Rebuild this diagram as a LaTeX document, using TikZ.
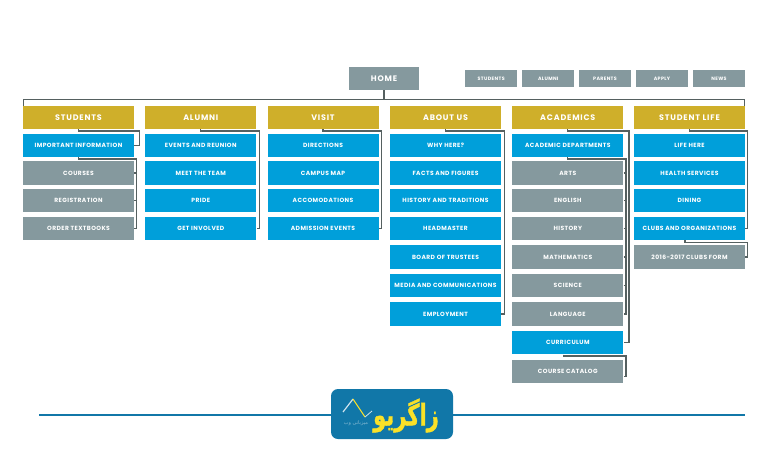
\documentclass[tikz,border=0pt]{standalone}
\usepackage{fontspec}
\usepackage{xcolor}
\usetikzlibrary{positioning}
\setmainfont{Poppins}
\newfontfamily\menufont[LetterSpace=7]{Poppins}
\newfontfamily\headfont[LetterSpace=10]{Poppins}
\newfontfamily\logofont[Script=Arabic,FakeBold=1.5]{DejaVu Sans}
\newfontfamily\logosmall[Script=Arabic]{DejaVu Sans}
\TeXXeTstate=1
\definecolor{mapgold}{RGB}{207,175,42}
\definecolor{mapblue}{RGB}{0,159,218}
\definecolor{mapgray}{RGB}{133,153,158}
\definecolor{mapwire}{RGB}{85,96,96}
\definecolor{logoblue}{RGB}{17,119,168}
\definecolor{logoyellow}{RGB}{250,225,40}

\begin{document}
\begin{tikzpicture}[
x=1pt, y=-1pt,
navbox/.style={text=white, font=\menufont\bfseries\fontsize{6}{7}\selectfont, minimum width=111pt, minimum height=23.3pt, inner sep=0pt, align=center},
headbox/.style={navbox, fill=mapgold, font=\headfont\bfseries\fontsize{8}{9}\selectfont},
bluebox/.style={navbox, fill=mapblue},
graybox/.style={navbox, fill=mapgray},
topbox/.style={navbox, fill=mapgray, minimum width=52.5pt, minimum height=17.5pt, font=\menufont\bfseries\fontsize{4.8}{5}\selectfont},
wire/.style={draw=mapwire, line width=1.3pt},
below gap/.style={below=4pt of #1},
below wide/.style={below=4.9pt of #1}
]
\useasboundingbox (0,0) rectangle (784,450);

% top row
\node[graybox, minimum width=70pt, font=\headfont\bfseries\fontsize{8}{9}\selectfont] (home) at (384,78.5) {HOME};
\node[topbox] (topstudents) at (491.2,78.7) {STUDENTS};
\node[topbox] (topalumni) at (548.2,78.7) {ALUMNI};
\node[topbox] (topparents) at (605,78.7) {PARENTS};
\node[topbox] (topapply) at (662,78.7) {APPLY};
\node[topbox] (topnews) at (719,78.7) {NEWS};

% column heads
\node[headbox] (students) at (78.5,117.5) {STUDENTS};
\node[headbox] (alumni) at (200.8,117.5) {ALUMNI};
\node[headbox] (visit) at (323,117.5) {VISIT};
\node[headbox] (about) at (445.5,117.5) {ABOUT US};
\node[headbox] (academics) at (567.8,117.5) {ACADEMICS};
\node[headbox] (life) at (689.5,117.5) {STUDENT LIFE};

% students
\node[bluebox, below gap=students] (s1) {IMPORTANT INFORMATION};
\node[graybox, below gap=s1] (s2) {COURSES};
\node[graybox, below gap=s2] (s3) {REGISTRATION};
\node[graybox, below gap=s3] (s4) {ORDER TEXTBOOKS};

% alumni
\node[bluebox, below gap=alumni] (a1) {EVENTS AND REUNION};
\node[bluebox, below gap=a1] (a2) {MEET THE TEAM};
\node[bluebox, below gap=a2] (a3) {PRIDE};
\node[bluebox, below gap=a3] (a4) {GET INVOLVED};

% visit
\node[bluebox, below gap=visit] (v1) {DIRECTIONS};
\node[bluebox, below gap=v1] (v2) {CAMPUS MAP};
\node[bluebox, below gap=v2] (v3) {ACCOMODATIONS};
\node[bluebox, below gap=v3] (v4) {ADMISSION EVENTS};

% about us
\node[bluebox, below gap=about] (b1) {WHY HERE?};
\node[bluebox, below gap=b1] (b2) {FACTS AND FIGURES};
\node[bluebox, below gap=b2] (b3) {HISTORY AND TRADITIONS};
\node[bluebox, below gap=b3] (b4) {HEADMASTER};
\node[bluebox, below wide=b4] (b5) {BOARD OF TRUSTEES};
\node[bluebox, below wide=b5] (b6) {MEDIA AND COMMUNICATIONS};
\node[bluebox, below wide=b6] (b7) {EMPLOYMENT};

% academics
\node[bluebox, below gap=academics] (c1) {ACADEMIC DEPARTMENTS};
\node[graybox, below gap=c1] (c2) {ARTS};
\node[graybox, below gap=c2] (c3) {ENGLISH};
\node[graybox, below gap=c3] (c4) {HISTORY};
\node[graybox, below wide=c4] (c5) {MATHEMATICS};
\node[graybox, below wide=c5] (c6) {SCIENCE};
\node[graybox, below wide=c6] (c7) {LANGUAGE};
\node[bluebox, below wide=c7] (c8) {CURRICULUM};
\node[graybox, below wide=c8] (c9) {COURSE CATALOG};

% student life
\node[bluebox, below gap=life] (l1) {LIFE HERE};
\node[bluebox, below gap=l1] (l2) {HEALTH SERVICES};
\node[bluebox, below gap=l2] (l3) {DINING};
\node[bluebox, below gap=l3] (l4) {CLUBS AND ORGANIZATIONS};
\node[graybox, below wide=l4] (l5) {2016-2017 CLUBS FORM};

% bus from home
\draw[wire] (home.south) -- (384,99.7);
\draw[wire] (students.north west) ++(0.5,0) |- (384,99.7) -| ([xshift=-0.5pt]life.north east);

% column wires
\draw[wire] (students.south) -- ++(0,1.7) -| ([xshift=5.5pt]s1.east) -- (s1.east);
\draw[wire] (s1.south) -- ++(0,2) -| ([xshift=2.5pt]s4.east) -- (s4.east);
\draw[wire] (s2.east) -- ++(2.5,0);
\draw[wire] (s3.east) -- ++(2.5,0);
\draw[wire] (alumni.south) -- ++(0,1.7) -| ([xshift=3pt]a4.east) -- (a4.east);
\draw[wire] (visit.south) -- ++(0,1.7) -| ([xshift=3pt]v4.east) -- (v4.east);
\draw[wire] (about.south) -- ++(0,1.7) -| ([xshift=3pt]b7.east) -- (b7.east);
\draw[wire] (academics.south) -- ++(0,1.7) -| ([xshift=5.5pt]c8.east) -- (c8.east);
\draw[wire] (c1.south) -- ++(0,2) -| ([xshift=2.5pt]c7.east) -- (c7.east);
\draw[wire] (c2.east) -- ++(2.5,0);
\draw[wire] (c3.east) -- ++(2.5,0);
\draw[wire] (c4.east) -- ++(2.5,0);
\draw[wire] (c5.east) -- ++(2.5,0);
\draw[wire] (c6.east) -- ++(2.5,0);
\draw[wire] ([xshift=-4.5pt]c8.south) -- ++(0,1.5) -| ([xshift=2.5pt,yshift=-5pt]c9.east) -- ([yshift=-5pt]c9.east);
\draw[wire] (life.south) -- ++(0,1.7) -| ([xshift=2pt]l4.east) -- (l4.east);
\draw[wire] ([xshift=-4.5pt]l4.south) -- ++(0,2) -| ([xshift=2.5pt]l5.east) -- (l5.east);

% logo strip
\node[fill=logoblue, rounded corners=7pt, minimum width=122pt, minimum height=50pt, inner sep=0pt] (logo) at (392,414) {};
\coordinate (stripleft) at (39,415);
\coordinate (stripright) at (745,415);
\draw[logoblue, line width=2.4pt] (stripleft) -- (stripleft -| logo.west);
\draw[logoblue, line width=2.4pt] (stripright -| logo.east) -- (stripright);
\draw[white!80!logoblue, line width=1.2pt] (343,412) -- (353,399);
\draw[logoyellow, line width=1pt] (353,399) -- (365,417);
\draw[white!80!logoblue, line width=0.8pt] (365,417) -- (372,411);
\node[text=logoyellow, inner sep=0pt, font=\logofont\bfseries\fontsize{21}{23}\selectfont] (brand) at (406,415.5) {\scalebox{1}[1.4]{\beginR زاگریو\endR}};
\node[text=white!50!logoblue, inner sep=0pt, font=\logosmall\fontsize{5}{6}\selectfont] (brandsub) at (356,423.5) {\beginR میزبانی وب\endR};
\end{tikzpicture}
\end{document}
